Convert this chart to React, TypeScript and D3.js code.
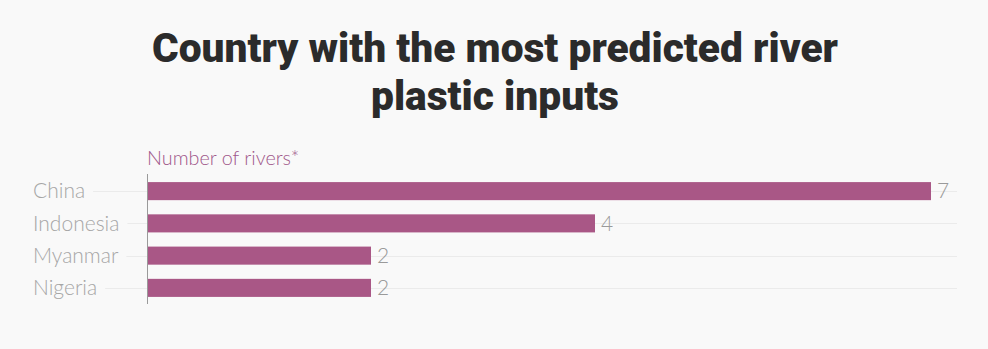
import React, { useEffect, useRef } from "react";
import * as d3 from "d3";

const countries = ["China", "Indonesia", "Myanmar", "Nigeria"];
const rivers = [7, 4, 2, 2];
const titleLines = ["Country with the most predicted river", "plastic inputs"];
const axisLabel = "Number of rivers*";

const W = 988;
const H = 349;

export default function App() {
  const ref = useRef<SVGSVGElement>(null);

  useEffect(() => {
    const svg = d3.select(ref.current);
    svg.selectAll("*").remove();

    svg.append("rect").attr("width", W).attr("height", H).attr("fill", "#f9f9f9");

    const title = svg
      .append("g")
      .attr("font-family", "Roboto, 'Noto Sans', sans-serif")
      .attr("font-weight", 900)
      .attr("font-size", 41)
      .attr("fill", "#2b2b2b")
      .attr("text-anchor", "middle");
    const titleWidths = [686, 248];
    titleLines.forEach((t, i) => {
      title
        .append("text")
        .attr("x", 495)
        .attr("y", 62 + i * 48)
        .attr("textLength", titleWidths[i])
        .attr("lengthAdjust", "spacingAndGlyphs")
        .text(t);
    });

    const x = d3.scaleLinear().domain([0, 7]).range([147, 931]);
    const y = d3.scaleBand().domain(countries).range([175, 304]).paddingInner(0.44).paddingOuter(0.22);

    svg
      .append("text")
      .attr("x", 147)
      .attr("y", 165)
      .attr("font-family", "Lato, 'Open Sans', sans-serif")
      .attr("font-weight", 300)
      .attr("font-size", 19.8)
      .attr("fill", "#a0578a")
      .text(axisLabel);

    const rows = svg.append("g");
    countries.forEach((c) => {
      const cy = (y(c) as number) + y.bandwidth() / 2;
      const label = rows
        .append("text")
        .attr("x", 33)
        .attr("y", cy)
        .attr("dy", "0.35em")
        .attr("font-family", "Lato, 'Open Sans', sans-serif")
        .attr("font-weight", 300)
        .attr("font-size", 21)
        .attr("fill", "#a6a6a6")
        .text(c);
      const tw = (label.node() as SVGTextElement).getComputedTextLength();
      rows
        .insert("line", ":first-child")
        .attr("x1", 33 + tw + 8)
        .attr("x2", 957)
        .attr("y1", Math.round(cy) + 0.5)
        .attr("y2", Math.round(cy) + 0.5)
        .attr("stroke", "#ebebeb")
        .attr("stroke-width", 1);
    });

    svg
      .append("g")
      .selectAll("rect")
      .data(rivers)
      .join("rect")
      .attr("x", x(0))
      .attr("y", (_, i) => y(countries[i]) as number)
      .attr("width", (d) => x(d) - x(0))
      .attr("height", y.bandwidth())
      .attr("fill", "#a95786");

    svg
      .append("g")
      .selectAll("text")
      .data(rivers)
      .join("text")
      .attr("x", (d) => x(d) + 6)
      .attr("y", (_, i) => (y(countries[i]) as number) + y.bandwidth() / 2)
      .attr("dy", "0.35em")
      .attr("font-family", "Lato, 'Open Sans', sans-serif")
      .attr("font-weight", 300)
      .attr("font-size", 21)
      .attr("fill", "#9a9a9a")
      .text((d) => String(d));

    svg
      .append("line")
      .attr("x1", 147.5)
      .attr("x2", 147.5)
      .attr("y1", 174)
      .attr("y2", 304)
      .attr("stroke", "#9a9a9a")
      .attr("stroke-width", 1);
  }, []);

  return (
    <svg
      ref={ref}
      width={W}
      height={H}
      style={{ position: "absolute", left: 0, top: 0, display: "block" }}
    />
  );
}
